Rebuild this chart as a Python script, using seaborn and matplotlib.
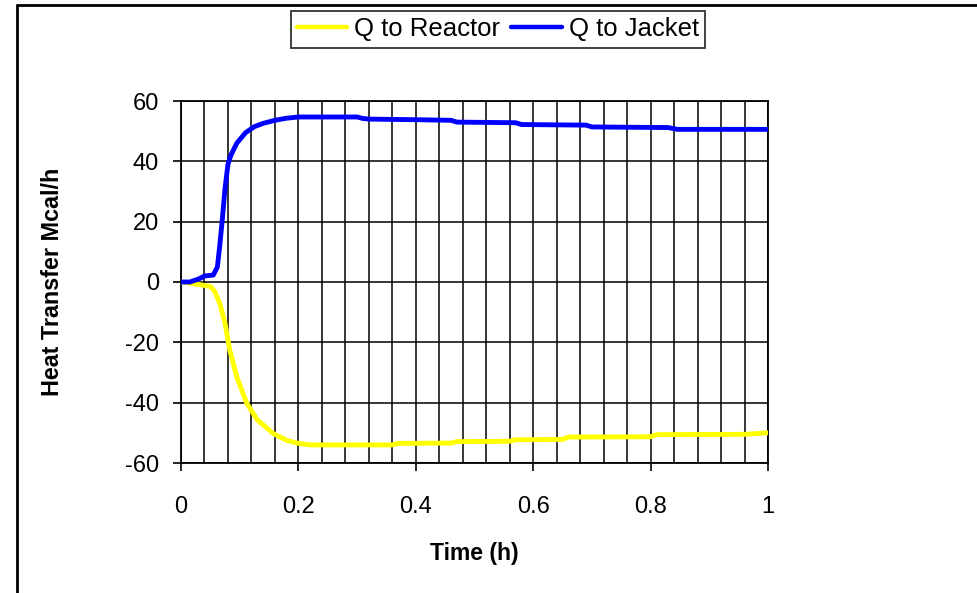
import numpy as np
import pandas as pd
import matplotlib
matplotlib.use("Agg")
import matplotlib.pyplot as plt
from matplotlib.lines import Line2D
from matplotlib.ticker import MultipleLocator
import seaborn as sns

# values
t_jacket = [0, 0.015, 0.03, 0.04, 0.055, 0.062, 0.066, 0.07, 0.075, 0.08, 0.085,
            0.095, 0.11, 0.125, 0.14, 0.16, 0.18, 0.2, 0.3, 0.31, 0.32, 0.4, 0.46,
            0.47, 0.57, 0.58, 0.69, 0.7, 0.83, 0.845, 1.0]
q_jacket = [0, 0, 1, 2, 2.3, 5, 12, 20, 31, 39, 42,
            46, 49.5, 51.5, 52.6, 53.6, 54.3, 54.7, 54.7, 54.2, 54.0, 53.8, 53.6,
            53.0, 52.8, 52.2, 52.0, 51.4, 51.2, 50.6, 50.6]

t_reactor = [0, 0.03, 0.05, 0.057, 0.066, 0.075, 0.083, 0.095, 0.112, 0.13, 0.157,
             0.18, 0.2, 0.22, 0.36, 0.37, 0.46, 0.47, 0.56, 0.57, 0.65, 0.66, 0.8,
             0.81, 0.96, 1.0]
q_reactor = [0, -0.8, -1.5, -3, -7, -13.7, -22.5, -31.4, -40.2, -45.7, -50.2,
             -52.5, -53.5, -54, -54, -53.5, -53.4, -52.9, -52.8, -52.3, -52.2, -51.4, -51.3,
             -50.6, -50.5, -50]

series_names = ["Q to Reactor", "Q to Jacket"]
series_colors = ["#FFFF00", "#0000FF"]
x_ticklabels = ["0", "0.2", "0.4", "0.6", "0.8", "1"]

sns.set_style("white")
plt.rcParams["font.family"] = ["Liberation Sans", "DejaVu Sans"]
plt.rcParams["axes.unicode_minus"] = False
plt.rcParams["text.color"] = "black"
plt.rcParams["axes.labelcolor"] = "black"

fig = plt.figure(figsize=(9.78, 5.93), dpi=100)
ax = fig.add_axes([181 / 978, 1 - 463 / 593, 587 / 978, 362 / 593])

sns.lineplot(x=t_reactor, y=q_reactor, ax=ax, color=series_colors[0], linewidth=3.5,
             label=series_names[0], legend=False, zorder=3)
sns.lineplot(x=t_jacket, y=q_jacket, ax=ax, color=series_colors[1], linewidth=3.5,
             label=series_names[1], legend=False, zorder=3)

ax.set_xlim(0, 1)
ax.set_ylim(-60, 60)
ax.xaxis.set_minor_locator(MultipleLocator(0.04))
ax.yaxis.set_major_locator(MultipleLocator(20))
ax.set_xticks(np.arange(0, 1.01, 0.2))
ax.set_xticklabels(x_ticklabels)

ax.grid(True, which="both", axis="x", color="black", linewidth=1.1)
ax.grid(True, which="major", axis="y", color="black", linewidth=1.1)
ax.set_axisbelow(True)
for s in ax.spines.values():
    s.set_color("black")
    s.set_linewidth(1.3)

ax.tick_params(axis="both", which="major", direction="out", length=6, width=1.2,
               color="black", labelsize=17, labelcolor="black")
ax.tick_params(axis="x", which="major", pad=18, bottom=True)
ax.tick_params(axis="y", which="major", pad=10, left=True)
ax.tick_params(axis="x", which="minor", length=0)

ax.set_xlabel("Time (h)", fontsize=16.5, fontweight="bold", labelpad=17)
ax.set_ylabel("Heat Transfer Mcal/h", fontsize=16.8, fontweight="bold", labelpad=44)

handles = [Line2D([], [], color=c, linewidth=3.2) for c in series_colors]
leg = fig.legend(handles, series_names, loc="upper center",
                 bbox_to_anchor=(498 / 978, 1 - 11 / 593), ncol=2, fontsize=18.5,
                 frameon=True, fancybox=False, edgecolor="black", handlelength=1.95,
                 handletextpad=0.27, columnspacing=0.43, borderpad=0.25,
                 borderaxespad=0)
leg.get_frame().set_linewidth(1.3)

# outer chart border (only top and left edges are inside the picture)
fig.add_artist(Line2D([17 / 978, 1.0], [1 - 5 / 593, 1 - 5 / 593],
                      transform=fig.transFigure, color="black", linewidth=2))
fig.add_artist(Line2D([17 / 978, 17 / 978], [0.0, 1 - 5 / 593],
                      transform=fig.transFigure, color="black", linewidth=2))

fig.savefig("out.png", dpi=100, facecolor="white")
